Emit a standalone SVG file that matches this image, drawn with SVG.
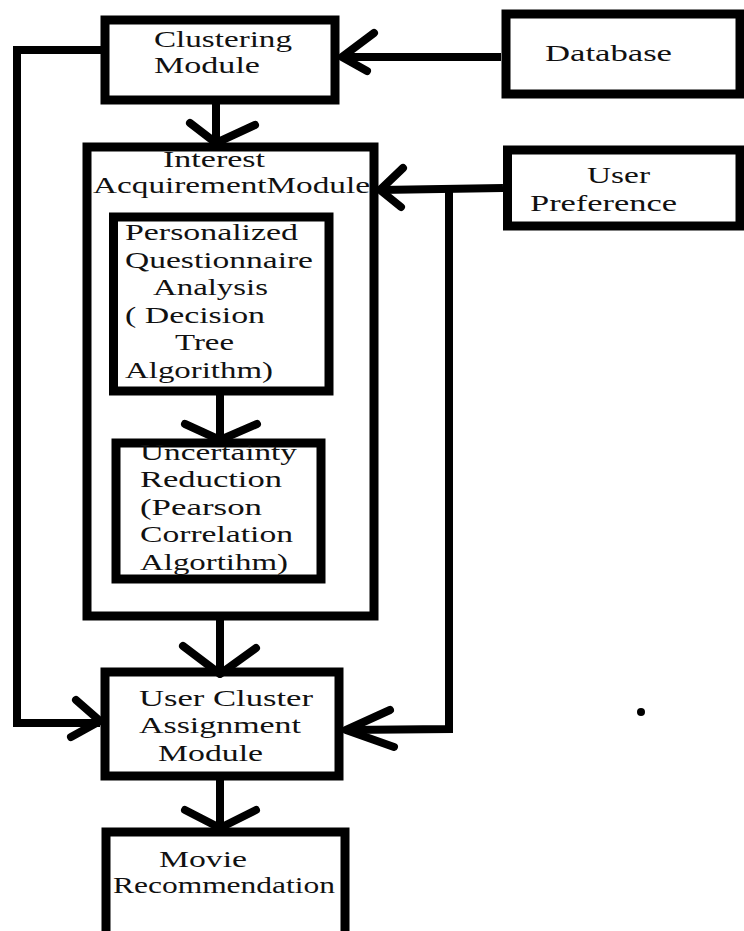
<svg xmlns="http://www.w3.org/2000/svg" width="744" height="931" viewBox="0 0 744 931">
<style>
.box{fill:#fff;stroke:#000;stroke-width:9}
.ln{fill:none;stroke:#000;stroke-width:8;stroke-linejoin:miter}
.ah{fill:none;stroke:#000;stroke-width:8;stroke-linecap:round;stroke-linejoin:round}
text{font-family:"Liberation Serif","Times New Roman",serif;font-size:24px;fill:#111}
</style>
<rect width="744" height="931" fill="#fff"/>
<g id="database">
<rect class="box" x="506" y="14" width="234" height="80"/>
<text x="545" y="61" textLength="127" lengthAdjust="spacingAndGlyphs">Database</text>
</g>
<g id="user-preference">
<rect class="box" x="507.5" y="150" width="232.5" height="76"/>
<text x="587" y="183" textLength="63" lengthAdjust="spacingAndGlyphs">User</text>
<text x="530" y="211" textLength="147" lengthAdjust="spacingAndGlyphs">Preference</text>
</g>
<g id="clustering-module">
<rect class="box" x="105" y="20" width="230" height="80"/>
<text x="154" y="47" textLength="138" lengthAdjust="spacingAndGlyphs">Clustering</text>
<text x="154" y="73" textLength="106" lengthAdjust="spacingAndGlyphs">Module</text>
</g>
<g id="interest-acquirement-module">
<rect class="box" x="87" y="147" width="287" height="469"/>
<text x="163" y="167" textLength="102" lengthAdjust="spacingAndGlyphs">Interest</text>
<text x="93" y="193" textLength="277" lengthAdjust="spacingAndGlyphs">AcquirementModule</text>
</g>
<g id="personalized-questionnaire">
<rect class="box" x="113.5" y="217" width="215.5" height="174"/>
<text x="125" y="240" textLength="173" lengthAdjust="spacingAndGlyphs">Personalized</text>
<text x="125" y="268" textLength="188" lengthAdjust="spacingAndGlyphs">Questionnaire</text>
<text x="153" y="295" textLength="115" lengthAdjust="spacingAndGlyphs">Analysis</text>
<text x="125" y="323" textLength="140" lengthAdjust="spacingAndGlyphs">( Decision</text>
<text x="175" y="350" textLength="59" lengthAdjust="spacingAndGlyphs">Tree</text>
<text x="125" y="378" textLength="148" lengthAdjust="spacingAndGlyphs">Algorithm)</text>
</g>
<g id="uncertainty-reduction">
<rect class="box" x="116" y="443" width="205" height="136"/>
<text x="140" y="460" textLength="157" lengthAdjust="spacingAndGlyphs">Uncertainty</text>
<text x="140" y="487" textLength="142" lengthAdjust="spacingAndGlyphs">Reduction</text>
<text x="140" y="515" textLength="122" lengthAdjust="spacingAndGlyphs">(Pearson</text>
<text x="140" y="542" textLength="153" lengthAdjust="spacingAndGlyphs">Correlation</text>
<text x="140" y="570" textLength="148" lengthAdjust="spacingAndGlyphs">Algortihm)</text>
</g>
<g id="user-cluster-assignment">
<rect class="box" x="105" y="672" width="234" height="104"/>
<text x="139" y="706" textLength="174" lengthAdjust="spacingAndGlyphs">User Cluster</text>
<text x="139" y="733" textLength="162" lengthAdjust="spacingAndGlyphs">Assignment</text>
<text x="158" y="761" textLength="105" lengthAdjust="spacingAndGlyphs">Module</text>
</g>
<g id="movie-recommendation">
<rect class="box" x="106" y="832" width="239" height="120"/>
<text x="159" y="867" textLength="88" lengthAdjust="spacingAndGlyphs">Movie</text>
<text x="113" y="893" textLength="222" lengthAdjust="spacingAndGlyphs">Recommendation</text>
</g>
<g id="connectors">
<line class="ln" x1="501" y1="57" x2="342" y2="57"/>
<polyline class="ah" points="374,33 342,57 367,71"/>
<line class="ln" x1="216" y1="103" x2="216" y2="143"/>
<polyline class="ah" points="190,123 216,143 255,125"/>
<polyline class="ln" points="101,50 17,50 17,723 100,723"/>
<polyline class="ah" points="76,700 100,721 71,737"/>
<line class="ln" x1="503" y1="188" x2="380" y2="190"/>
<polyline class="ah" points="403,168 380,190 401,207"/>
<polyline class="ln" points="449,188 449,729 346,730"/>
<polyline class="ah" points="390,710 346,730 394,747"/>
<line class="ln" x1="220" y1="395" x2="220" y2="440"/>
<polyline class="ah" points="185,424 220,440 257,424"/>
<line class="ln" x1="220" y1="620" x2="220" y2="674"/>
<polyline class="ah" points="183,646 220,674 256,648"/>
<line class="ln" x1="220" y1="780" x2="220" y2="828"/>
<polyline class="ah" points="185,810 220,828 256,810"/>
</g>
<circle cx="641" cy="712" r="4" fill="#000"/>
</svg>
